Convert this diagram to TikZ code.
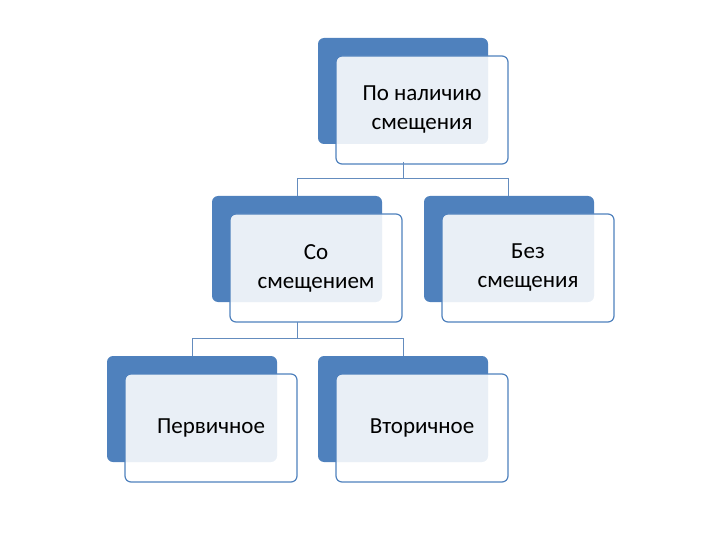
\documentclass[tikz,border=0pt]{standalone}
\usepackage{fontspec}
\setmainfont{Carlito}
\begin{document}
\begin{tikzpicture}[x=1pt,y=-1pt,
  back/.style={fill={rgb,255:red,79;green,129;blue,189},rounded corners=6pt},
  front/.style={draw={rgb,255:red,79;green,129;blue,189},line width=1.2pt,fill=white,fill opacity=0.88,rounded corners=6pt},
  lbl/.style={align=center,font=\fontsize{23}{29}\selectfont,text=black},
  con/.style={draw={rgb,255:red,100;green,140;blue,190},line width=0.8pt}]
\useasboundingbox (0,0) rectangle (720,540);
\newcommand\mybox[4]{%
  \fill[back] (#1,#2) rectangle ++(170,106);
  \path[front] (#1+18,#2+18) rectangle ++(172,108);
  \node[lbl] (#3) at (#1+104,#2+72) {#4};}
\mybox{318}{38}{top}{По наличию\\смещения}
\mybox{212}{196}{ml}{Со\\смещением}
\mybox{424}{196}{mr}{Без\\смещения}
\mybox{107}{356}{bl}{Первичное}
\mybox{318}{356}{br}{Вторичное}
\coordinate (j1) at (403,178);
\coordinate (j2) at (297,338);
\draw[con] (403,162) -- (j1) -| (297,196);
\draw[con] (j1) -| (508,196);
\draw[con] (297,322) -- (j2) -| (192,356);
\draw[con] (j2) -| (403,356);
\end{tikzpicture}
\end{document}
